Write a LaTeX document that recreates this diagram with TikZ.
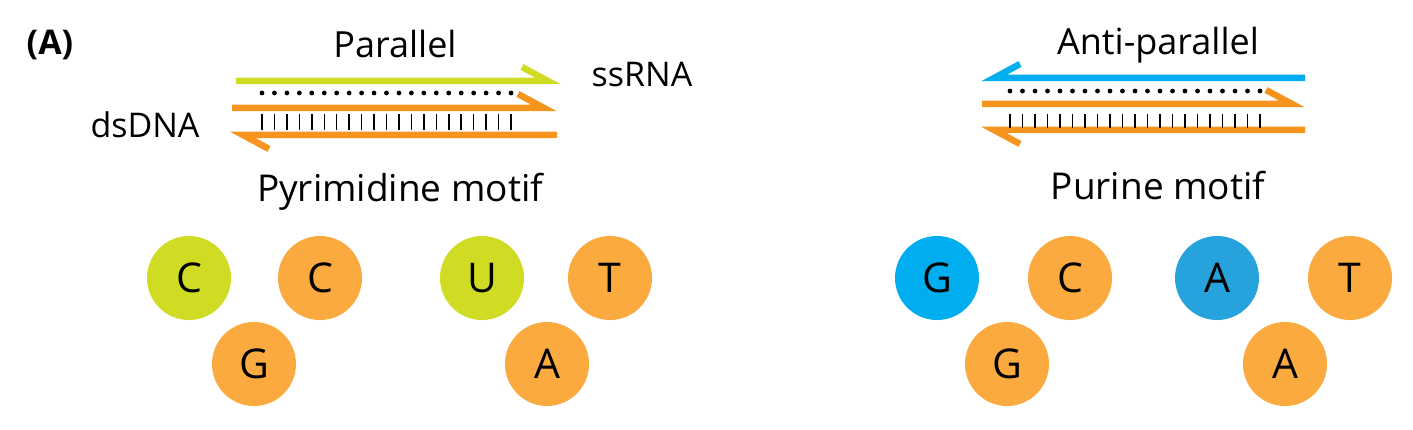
\documentclass[tikz,border=0pt]{standalone}
\usepackage{fontspec}
\setmainfont{Open Sans}
\definecolor{limecol}{RGB}{208,220,36}
\definecolor{orangeline}{RGB}{247,148,30}
\definecolor{orangebase}{RGB}{250,170,62}
\definecolor{bluecol}{RGB}{0,174,239}
\definecolor{bluedark}{RGB}{38,162,220}
\tikzset{
  strand/.style={line width=6.5pt, line join=miter, miter limit=20},
  base/.style={circle, minimum size=84pt, inner sep=0pt, font=\fontsize{41}{41}\selectfont},
  lbl/.style={anchor=base, inner sep=0pt, font=\fontsize{36}{36}\selectfont},
  side/.style={anchor=base, inner sep=0pt, font=\fontsize{34}{34}\selectfont},
  motif/.style={anchor=base, inner sep=0pt, font=\fontsize{37}{37}\selectfont},
}
\begin{document}
\begin{tikzpicture}[x=1pt,y=-1pt]
\useasboundingbox (0,0) rectangle (1413,430);

\node[font=\fontsize{34}{34}\selectfont\bfseries] (panel) at (50,45) {(A)};

% parallel triplex
\draw[strand, limecol] (236,81) -- (548,81) -- (522,67);
\draw[strand, orangeline] (232,108) -- (544,108) -- (518,94);
\draw[strand, orangeline] (557,135) -- (243,135) -- (269,149);
\foreach \i in {0,...,20} {
  \fill (262+12.45*\i,93) circle (2.4pt);
  \draw[line width=1.5pt] (262+12.45*\i,114) -- ++(0,16);
}
\node[lbl] (par) at (395,58) {Parallel};
\node[side] (ssrna) at (642,87) {ssRNA};
\node[side] (dsdna) at (145,138) {dsDNA};
\node[motif] (pyr) at (400,202) {Pyrimidine motif};

% anti-parallel triplex
\draw[strand, bluecol] (1305,78) -- (994,78) -- (1020,64);
\draw[strand, orangeline] (982,104) -- (1292,104) -- (1266,90);
\draw[strand, orangeline] (1305,130) -- (994,130) -- (1020,144);
\foreach \i in {0,...,20} {
  \fill (1010+12.5*\i,91) circle (2.4pt);
  \draw[line width=1.5pt] (1010+12.5*\i,114) -- ++(0,14);
}
\node[lbl] (anti) at (1158,55) {Anti-parallel};
\node[motif] (pur) at (1158,200) {Purine motif};

% base triplets
\node[base, fill=limecol] (c1) at (189,278) {C};
\node[base, fill=orangebase] (c2) at (320,278) {C};
\node[base, fill=orangebase] (g1) at (254,364) {G};
\node[base, fill=limecol] (u1) at (482,278) {U};
\node[base, fill=orangebase] (t1) at (610,278) {T};
\node[base, fill=orangebase] (a1) at (547,364) {A};

\node[base, fill=bluecol] (g2) at (937,278) {G};
\node[base, fill=orangebase] (c3) at (1070,278) {C};
\node[base, fill=orangebase] (g3) at (1007,364) {G};
\node[base, fill=bluedark] (a2) at (1217,278) {A};
\node[base, fill=orangebase] (t2) at (1350,278) {T};
\node[base, fill=orangebase] (a3) at (1285,364) {A};
\end{tikzpicture}
\end{document}
